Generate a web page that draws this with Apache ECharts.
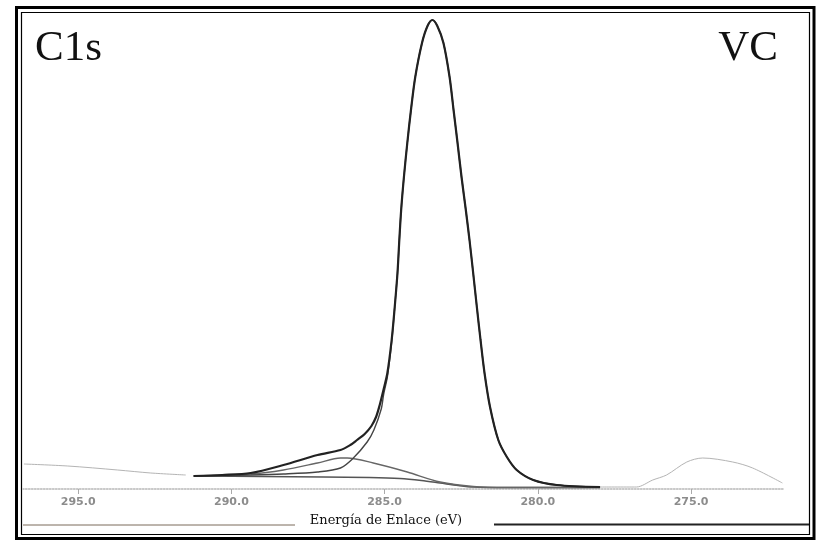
<!DOCTYPE html>
<html>
<head>
<meta charset="utf-8">
<title>C1s VC</title>
<script src="https://cdn.jsdelivr.net/npm/echarts@6/dist/echarts.min.js"></script>
<style>
  html, body { margin: 0; padding: 0; background: #fff; }
  #chart { width: 825px; height: 543px; }
</style>
</head>
<body>
<div id="chart"></div>
<script>
// binding energy (eV), intensity (arbitrary units)
const tickValues = [275, 280, 285, 290, 295]

const envelope = [
  [277.97, 2], [279.38, 4], [280.15, 9], [280.69, 19], [281.01, 32], [281.29, 49],
  [281.56, 82], [281.74, 116], [281.87, 149], [281.99, 182], [282.11, 216], [282.23, 249],
  [282.35, 279], [282.49, 312], [282.62, 346], [282.75, 379], [282.88, 412], [283.08, 446],
  [283.28, 463], [283.44, 469], [283.60, 463], [283.78, 446], [284.00, 412],
  [284.14, 379], [284.26, 346], [284.37, 312], [284.46, 279], [284.52, 249], [284.58, 216],
  [284.67, 182], [284.77, 149], [284.91, 116], [285.03, 100], [285.16, 84], [285.28, 72],
  [285.43, 63], [285.65, 55], [285.90, 49], [286.12, 44], [286.44, 39], [287.19, 34],
  [288.30, 24], [289.37, 16], [290.30, 14], [291.23, 13]
]

const mainPeak = [
  [277.97, 2], [279.38, 4], [280.15, 9], [280.69, 19], [281.01, 32], [281.29, 49],
  [281.56, 82], [281.74, 116], [281.87, 149], [281.99, 182], [282.11, 216], [282.23, 249],
  [282.35, 279], [282.49, 312], [282.62, 346], [282.75, 379], [282.88, 412], [283.08, 446],
  [283.28, 463], [283.44, 469], [283.60, 463], [283.78, 446], [284.00, 412],
  [284.14, 379], [284.26, 346], [284.37, 312], [284.46, 279], [284.52, 249], [284.58, 216],
  [284.67, 182], [284.77, 147], [284.91, 112], [285.03, 95], [285.11, 80], [285.35, 59],
  [285.57, 47], [286.02, 31], [286.44, 21], [287.19, 17], [288.30, 15], [289.37, 14], [291.23, 13]
]

const sidePeak = [
  [277.97, 1.5], [281.0, 1.5], [282.11, 2.5], [283.19, 7], [284.26, 17], [285.37, 26],
  [286.22, 31], [286.44, 31], [287.19, 26], [288.30, 19], [289.37, 15], [291.23, 13]
]

const background = [
  [277.97, 1.5], [281.0, 1.5], [282.11, 2], [282.6, 3.5], [283.19, 6], [283.8, 8.5],
  [284.5, 10.5], [285.5, 11.5], [287.0, 12], [289.0, 12.5], [291.23, 13]
]

const rawLow = [
  [272.02, 6], [272.99, 21], [273.64, 27], [274.62, 31], [275.14, 27], [275.80, 14],
  [276.25, 9], [276.78, 2], [277.97, 2]
]

const rawHigh = [
  [291.49, 14], [292.63, 16], [293.71, 19], [295.34, 23], [296.77, 25]
]

const chart = echarts.init(document.getElementById('chart'))

const lineSeries = (data, color, width) => ({
  type: 'line',
  data: data,
  symbol: 'none',
  smooth: 0.3,
  lineStyle: { color: color, width: width },
  silent: true
})

const option = {
  animation: false,
  backgroundColor: '#fff',
  grid: { left: 23, right: 42, top: 9, bottom: 54 },
  xAxis: {
    type: 'value',
    inverse: true,
    min: 272,
    max: 296.8,
    splitLine: { show: false },
    axisLine: { show: true, lineStyle: { color: '#b8b8b8', type: 'dotted', width: 1.5 } },
    axisTick: { show: true, length: 5, customValues: tickValues, lineStyle: { color: '#aaa' } },
    axisLabel: {
      customValues: tickValues,
      formatter: v => v.toFixed(1),
      color: '#8c8c8c',
      fontFamily: 'DejaVu Sans',
      fontWeight: 'bold',
      fontSize: 11,
      margin: 8
    }
  },
  yAxis: { type: 'value', min: 0, max: 480, show: false },
  series: [
    lineSeries(rawLow, '#b4b4b4', 1),
    lineSeries(rawHigh, '#b4b4b4', 1),
    lineSeries(background, '#555', 1.6),
    lineSeries(sidePeak, '#666', 1.3),
    lineSeries(mainPeak, '#444', 1.4),
    lineSeries(envelope, '#222', 2.2)
  ],
  graphic: [
    { type: 'rect', shape: { x: 16.5, y: 7.5, width: 797.5, height: 531 }, style: { fill: null, stroke: '#000', lineWidth: 3 } },
    { type: 'rect', shape: { x: 21.5, y: 12.5, width: 788, height: 522 }, style: { fill: null, stroke: '#000', lineWidth: 1.2 } },
    { type: 'line', shape: { x1: 23, y1: 525, x2: 295, y2: 525 }, style: { stroke: '#7a6a5a', lineWidth: 1 } },
    { type: 'line', shape: { x1: 494, y1: 524.5, x2: 809, y2: 524.5 }, style: { stroke: '#222', lineWidth: 2 } },
    {
      type: 'text', x: 386, y: 521,
      style: { text: 'Energía de Enlace (eV)', font: '13px "DejaVu Serif"', fill: '#111', align: 'center', verticalAlign: 'middle' }
    },
    { type: 'text', left: 35, top: 27, style: { text: 'C1s', font: '43px "Liberation Serif"', fill: '#111' } },
    { type: 'text', right: 47, top: 27, style: { text: 'VC', font: '43px "Liberation Serif"', fill: '#111' } }
  ]
}

chart.setOption(option)
</script>
</body>
</html>
